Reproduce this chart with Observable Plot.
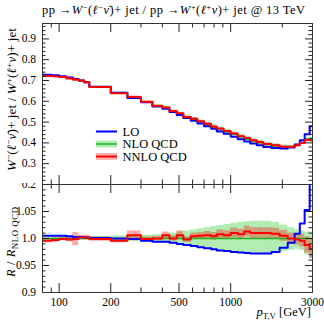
<!DOCTYPE html>
<html><head><meta charset="utf-8">
<script src="https://cdn.jsdelivr.net/npm/d3@7"></script>
<script src="https://cdn.jsdelivr.net/npm/@observablehq/plot@0.6"></script>
<style>
body{margin:0;background:#fff;}
#wrap{width:324px;height:325px;overflow:hidden;}
#wrap svg{display:block;}
</style></head><body><div id="wrap"></div>
<script>
// bin edges in p_T,V [GeV]
const edges = [80,90,100,110,120,130,140,150,200,250,300,350,400,440,485,530,585,640,700,770,830,910,1000,1100,1200,1300,1420,1550,1730,1930,2150,2360,2530,2700,2890,3000];
// NLO QCD central ratio W-/W+
const nloCentral = [0.724,0.722,0.717,0.711,0.705,0.698,0.690,0.669,0.641,0.617,0.598,0.578,0.567,0.553,0.539,0.526,0.514,0.501,0.489,0.477,0.465,0.454,0.441,0.429,0.418,0.409,0.400,0.391,0.385,0.380,0.381,0.389,0.401,0.419,0.421];
// ratios to NLO QCD
const loRel = [1.005,1.005,1.005,1.004,1.003,1.003,1.002,1.001,1.000,0.999,0.996,0.994,0.994,0.992,0.990,0.988,0.986,0.984,0.982,0.980,0.978,0.977,0.975,0.974,0.973,0.972,0.972,0.972,0.975,0.983,0.992,1.009,1.028,1.053,1.14];
const nnloRel = [0.996,0.997,0.999,0.998,0.999,1.002,1.002,0.999,0.996,1.006,0.999,1.000,1.006,1.000,1.006,0.998,1.004,1.005,1.006,1.004,1.008,1.006,1.010,1.008,1.013,1.010,1.010,1.010,1.009,1.005,1.000,0.998,0.996,0.988,0.981];
// relative uncertainty bands
const nloUp = [0.003,0.003,0.003,0.003,0.003,0.003,0.003,0.004,0.005,0.006,0.006,0.007,0.008,0.010,0.012,0.014,0.016,0.018,0.020,0.022,0.024,0.026,0.028,0.030,0.031,0.032,0.032,0.032,0.030,0.025,0.020,0.016,0.014,0.012,0.012];
const nloDown = [0.003,0.003,0.003,0.003,0.003,0.003,0.003,0.004,0.005,0.006,0.006,0.007,0.008,0.009,0.011,0.013,0.015,0.017,0.019,0.021,0.023,0.024,0.026,0.027,0.028,0.028,0.028,0.028,0.026,0.024,0.022,0.020,0.022,0.030,0.037];
const nnloErr = [0.004,0.004,0.003,0.004,0.012,0.004,0.004,0.004,0.004,0.008,0.004,0.004,0.006,0.005,0.008,0.005,0.006,0.006,0.007,0.007,0.008,0.008,0.009,0.009,0.010,0.010,0.010,0.010,0.010,0.010,0.010,0.010,0.012,0.015,0.018];
// tick positions and labels
const xMajor = [100,200,500,1000,3000];
const xMinor = [90,300,400,600,700,800,900,2000];
const xLabels = [100,200,500,1000,3000];
const yUpMajor = [0.2,0.3,0.4,0.5,0.6,0.7,0.8,0.9];
const yUpLabels = ["0.2","0.3","0.4","0.5","0.6","0.7","0.8","0.9"];
const yLoMajor = [0.9,0.95,1.0,1.05,1.1];
const yLoLabels = ["0.9","0.95","1.0","1.05"];
const legendLabels = ["LO", "NLO QCD", "NNLO QCD"];

const C = {lo:"#0000ff", nlo:"#22b022", nnlo:"#ff0000", nloBand:"#00c000", nnloBand:"#ff0000"};
const W = 324, ML = 42, MR = 12;
const PW = W - ML - MR;
const FONT = "Liberation Serif, serif";
const LOWER_TOP = 183; // page offset of the ratio panel's svg

const bins = edges.slice(0, -1).map((x1, i) => ({x1, x2: edges[i + 1], i}));
const steps = vals => vals.map((v, i) => ({x: edges[i], y: v})).concat([{x: edges[edges.length - 1], y: vals[vals.length - 1]}]);

function tickMarks(yMaj, yMin, ph) {
  const s = {stroke: "#222", strokeWidth: 1};
  return [
    Plot.tickY(yMaj, {y: d => d, insetRight: PW - 7, ...s}),
    Plot.tickY(yMaj, {y: d => d, insetLeft: PW - 7, ...s}),
    Plot.tickY(yMin, {y: d => d, insetRight: PW - 3.5, ...s}),
    Plot.tickY(yMin, {y: d => d, insetLeft: PW - 3.5, ...s}),
    Plot.tickX(xMajor, {x: d => d, insetBottom: ph - 9, ...s}),
    Plot.tickX(xMajor, {x: d => d, insetTop: ph - 9, ...s}),
    Plot.tickX(xMinor, {x: d => d, insetBottom: ph - 4.5, ...s}),
    Plot.tickX(xMinor, {x: d => d, insetTop: ph - 4.5, ...s}),
    Plot.frame({stroke: "#333", strokeWidth: 1})
  ];
}

function panel({h, mt, mb, ydom, yMaj, yMin, series, showX}) {
  const ph = h - mt - mb;
  const [lo, nlo, nnlo, nloLo, nloHi, nnloLo, nnloHi] = series;
  const marks = [
    Plot.rect(bins, {x1: "x1", x2: "x2", y1: d => nloLo[d.i], y2: d => nloHi[d.i], fill: C.nloBand, fillOpacity: 0.3, clip: true}),
    Plot.rect(bins, {x1: "x1", x2: "x2", y1: d => nnloLo[d.i], y2: d => nnloHi[d.i], fill: C.nnloBand, fillOpacity: 0.33, clip: true}),
    Plot.line(steps(nlo), {x: "x", y: "y", curve: "step-after", stroke: C.nlo, strokeWidth: 1.5, clip: true}),
    Plot.line(steps(lo), {x: "x", y: "y", curve: "step-after", stroke: C.lo, strokeWidth: 2, clip: true}),
    Plot.line(steps(nnlo), {x: "x", y: "y", curve: "step-after", stroke: C.nnlo, strokeWidth: 2, clip: true}),
    ...tickMarks(yMaj, yMin, ph)
  ];
  if (showX) marks.push(Plot.text(xLabels, {x: d => d, text: d => String(d), frameAnchor: "bottom", dy: 13, fontSize: 11.5, fill: "#000"}));
  return Plot.plot({
    width: W, height: h, marginLeft: ML, marginRight: MR, marginTop: mt, marginBottom: mb,
    x: {type: "log", domain: [80, 3000], axis: null},
    y: {domain: ydom, axis: null},
    style: {background: "white", fontFamily: FONT, fontSize: "11px", color: "#000"},
    marks
  });
}

const upper = panel({
  h: 185, mt: 23, mb: 1, ydom: [0.2, 0.974], yMaj: yUpMajor,
  yMin: d3.range(0.22, 0.97, 0.02).filter(v => Math.abs(v * 10 - Math.round(v * 10)) > 1e-6),
  showX: false,
  series: [
    nloCentral.map((v, i) => v * loRel[i]),
    nloCentral,
    nloCentral.map((v, i) => v * nnloRel[i]),
    nloCentral.map((v, i) => v * (1 - nloDown[i])),
    nloCentral.map((v, i) => v * (1 + nloUp[i])),
    nloCentral.map((v, i) => v * nnloRel[i] * (1 - nnloErr[i])),
    nloCentral.map((v, i) => v * nnloRel[i] * (1 + nnloErr[i]))
  ]
});
const lower = panel({
  h: 142, mt: 1, mb: 33, ydom: [0.9, 1.1], yMaj: yLoMajor,
  yMin: d3.range(0.91, 1.1, 0.01).filter(v => Math.abs(v * 20 - Math.round(v * 20)) > 1e-6),
  showX: true,
  series: [
    loRel,
    nloCentral.map(() => 1),
    nnloRel,
    nloDown.map(v => 1 - v),
    nloUp.map(v => 1 + v),
    nnloRel.map((v, i) => v - nnloErr[i]),
    nnloRel.map((v, i) => v + nnloErr[i])
  ]
});
lower.style.marginTop = (LOWER_TOP - 185) + "px";

const wrap = document.getElementById("wrap");
wrap.appendChild(upper);
wrap.appendChild(lower);

// y tick labels, placed with each panel's own y scale
function yTickLabels(svg, plot, vals, labels, offset = 0) {
  const sy = plot.scale("y");
  vals.forEach((v, i) => {
    d3.select(svg).append("text")
      .attr("x", ML - 6).attr("y", sy.apply(v) - offset).attr("dy", "0.35em")
      .attr("text-anchor", "end").attr("font-family", FONT).attr("font-size", 11.5).attr("fill", "#000")
      .text(labels[i]);
  });
}
yTickLabels(upper, upper, yUpMajor.slice(1), yUpLabels.slice(1));
// the boundary label 0.2 of the upper panel is drawn in the lower svg (it straddles both)
yTickLabels(lower, upper, yUpMajor.slice(0, 1), yUpLabels.slice(0, 1), LOWER_TOP);
yTickLabels(lower, lower, yLoMajor.slice(0, 4), yLoLabels);

// rich text helper: parts = [text, flags] with flags containing i (italic), ^ (sup), _ (sub)
function rich(svg, parts, attrs) {
  const t = d3.select(svg).append("text").attr("font-family", FONT).attr("fill", "#000").attr("text-anchor", "start");
  for (const [k, v] of Object.entries(attrs)) t.attr(k, v);
  let shift = 0;
  for (const [s, f = ""] of parts) {
    const sp = t.append("tspan").text(s);
    if (f.includes("i")) sp.attr("font-style", "italic");
    let target = 0;
    if (f.includes("^")) target = -4.5;
    if (f.includes("_")) target = 3;
    if (target !== 0) sp.attr("font-size", "70%");
    if (target !== shift) { sp.attr("dy", target - shift); shift = target; }
  }
  return t;
}

// title
rich(upper, [["pp →"], ["W", "i"], ["−", "^"], ["("], ["ℓ", "i"], ["−", "^"], ["ν̄", "i"], [")+ jet / pp →"], ["W", "i"], ["+", "^"], ["("], ["ℓ", "i"], ["+", "^"], ["ν", "i"], [")+ jet @ 13 TeV"]],
  {x: 42, y: 14, "font-size": 12.5, textLength: 263, lengthAdjust: "spacing"});
// y label upper
rich(upper, [["W", "i"], ["−", "^"], ["("], ["ℓ", "i"], ["−", "^"], ["ν̄", "i"], [")+ jet / "], ["W", "i"], ["+", "^"], ["("], ["ℓ", "i"], ["+", "^"], ["ν", "i"], [")+ jet"]],
  {transform: "translate(16,171) rotate(-90)", x: 0, y: 0, "font-size": 13, textLength: 143, lengthAdjust: "spacing"});
// y label lower
rich(lower, [["R", "i"], [" / "], ["R", "i"], ["NLO QCD", "_"]],
  {transform: "translate(15,94) rotate(-90)", x: 0, y: 0, "font-size": 12.5, textLength: 70, lengthAdjust: "spacing"});
// x label
rich(lower, [["p", "i"], ["T,V", "_"], [" [GeV]"]], {x: 311, y: 133, "font-size": 12.5, "text-anchor": "end"});

// legend
const lg = d3.select(upper).append("g");
const rows = [
  {color: C.lo, band: null, y: 131.5, w: 2},
  {color: C.nlo, band: C.nloBand, y: 144, w: 1.5},
  {color: C.nnlo, band: C.nnloBand, y: 156.5, w: 2}
];
rows.forEach((r, k) => {
  if (r.band) lg.append("rect").attr("x", 96).attr("y", r.y - 3.5).attr("width", 21).attr("height", 7).attr("fill", r.band).attr("fill-opacity", 0.3);
  lg.append("line").attr("x1", 96).attr("x2", 117).attr("y1", r.y).attr("y2", r.y).attr("stroke", r.color).attr("stroke-width", r.w);
  lg.append("text").attr("x", 122.5).attr("y", r.y + 4.3).attr("text-anchor", "start").attr("font-family", FONT).attr("font-size", 12.5).attr("fill", "#000").text(legendLabels[k]);
});
</script></body></html>
